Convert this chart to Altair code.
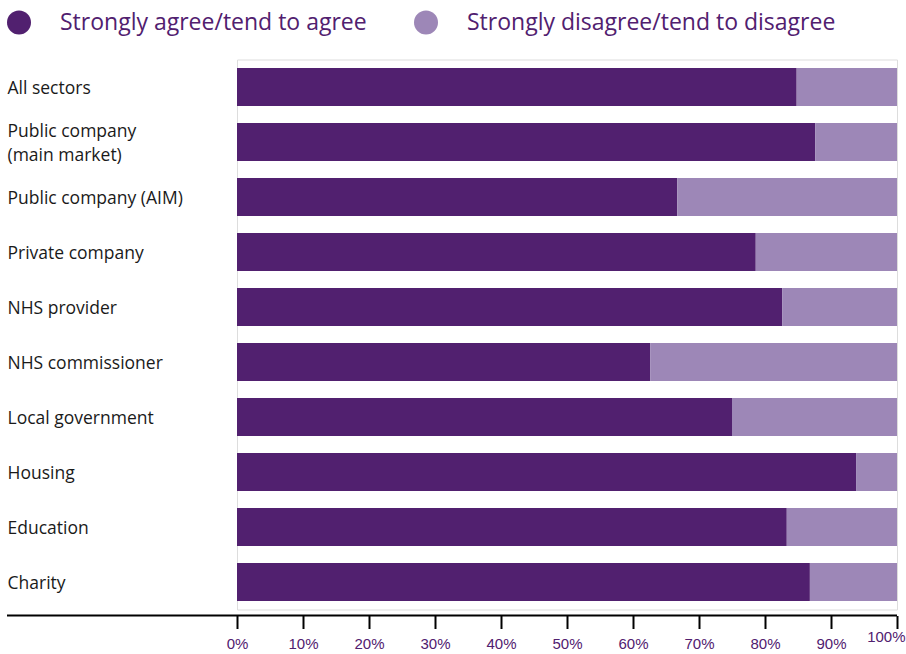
import altair as alt
import pandas as pd

categories = [
    "All sectors",
    "Public company|(main market)",
    "Public company (AIM)",
    "Private company",
    "NHS provider",
    "NHS commissioner",
    "Local government",
    "Housing",
    "Education",
    "Charity",
]
agree = [84.8, 87.6, 66.7, 78.6, 82.6, 62.6, 75.0, 93.8, 83.3, 86.8]
series = ["Strongly agree/tend to agree", "Strongly disagree/tend to disagree"]
colors = ["#51206f", "#9d87b7"]
tick_values = [0, 10, 20, 30, 40, 50, 60, 70, 80, 90, 100]

rows = []
for c, a in zip(categories, agree):
    rows.append({"sector": c, "group": series[0], "value": a, "ord": 0})
    rows.append({"sector": c, "group": series[1], "value": round(100 - a, 1), "ord": 1})
df = pd.DataFrame(rows)

FONT = "Open Sans"

bars = alt.Chart(df).mark_bar().encode(
    y=alt.Y(
        "sector:N",
        sort=categories,
        scale=alt.Scale(paddingInner=0.31, paddingOuter=0.155),
        axis=alt.Axis(
            title=None, domain=False, ticks=False, tickSize=0,
            labelAlign="left", labelBaseline="middle", labelPadding=230,
            labelFont=FONT, labelFontSize=17.5, labelColor="#1a1a1a",
            labelLimit=300, labelExpr="split(datum.label, '|')",
            labelLineHeight=24,
            labelOffset={
                "condition": {"test": "indexof(datum.label, '|') >= 0", "value": -10.5},
                "value": 1.5,
            },
        ),
    ),
    x=alt.X(
        "value:Q",
        stack="zero",
        scale=alt.Scale(domain=[0, 100], nice=False),
        axis=alt.Axis(
            title=None, domain=False, grid=False, values=tick_values,
            offset=6, tickSize=13, tickWidth=2, tickColor="#000000",
            labelColor="#51206f", labelFont="Liberation Sans",
            labelFontSize=15, labelExpr="datum.value + '%'", labelFlush=False,
            labelAlign={
                "condition": {"test": "datum.value == 100", "value": "right"},
                "value": "center",
            },
            labelOffset={
                "condition": {"test": "datum.value == 100", "value": 8},
                "value": 0,
            },
            labelPadding={
                "condition": {"test": "datum.value == 100", "value": 1},
                "value": 8,
            },
        ),
    ),
    color=alt.Color(
        "group:N",
        scale=alt.Scale(domain=series, range=colors),
        legend=alt.Legend(
            title=None, orient="none", legendX=-230, legendY=-49,
            direction="horizontal", symbolType="circle", symbolSize=576,
            symbolStrokeWidth=0, symbolOpacity=1, labelFontSize=23,
            labelColor="#51206f", labelFont=FONT, labelOffset=29,
            columnPadding=47, labelLimit=500,
        ),
    ),
    order=alt.Order("ord:Q"),
)

baseline = alt.Chart(pd.DataFrame({"k": [0]})).mark_rule(
    color="#000000", strokeWidth=2
).encode(x=alt.value(-230), x2=alt.value(660), y=alt.value(556))

chart = alt.layer(bars, baseline).properties(
    width=660,
    height=550,
    autosize=alt.AutoSizeParams(type="none"),
    padding={"left": 237, "top": 59.5, "right": 9, "bottom": 44.5},
).configure_view(stroke=None).configure(background="#ffffff")

chart.save("out.html", embed_options={"renderer": "svg", "actions": False})
